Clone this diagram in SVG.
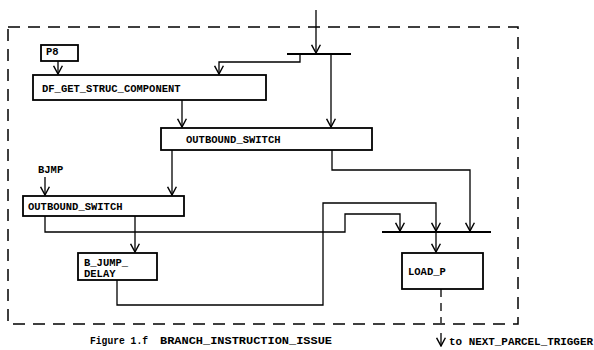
<svg xmlns="http://www.w3.org/2000/svg" width="594" height="350" viewBox="0 0 594 350">
<style>
.box{fill:#fff;stroke:#000;stroke-width:1.8}
.ln{fill:none;stroke:#000;stroke-width:1.3}
.bar{fill:none;stroke:#000;stroke-width:2.2}
.t{font-family:"Liberation Mono","DejaVu Sans Mono",monospace;font-weight:bold;font-size:10.5px;fill:#000}
.frame{fill:none;stroke:#000;stroke-width:1.5;stroke-dasharray:12 8}
</style>
<defs>
<marker id="ah" viewBox="0 0 10 10" refX="9" refY="5" markerWidth="11" markerHeight="11" markerUnits="userSpaceOnUse" orient="auto">
<path d="M1.5,1 L9,5 L1.5,9" fill="none" stroke="#000" stroke-width="1.3"/>
</marker>
</defs>
<rect class="frame" x="8" y="27" width="510" height="297"/>
<g id="connectors">
<path class="ln" d="M316,10 V53" marker-end="url(#ah)"/>
<path class="bar" d="M287,54 H351"/>
<path class="ln" d="M300,54 V62 H219 V74" marker-end="url(#ah)"/>
<path class="ln" d="M331,55 V127" marker-end="url(#ah)"/>
<path class="ln" d="M58,61 V74" marker-end="url(#ah)"/>
<path class="ln" d="M182,100 V127" marker-end="url(#ah)"/>
<path class="ln" d="M172,150 V195" marker-end="url(#ah)"/>
<path class="ln" d="M332,150 V170 H470 V231" marker-end="url(#ah)"/>
<path class="ln" d="M45,177 V195" marker-end="url(#ah)"/>
<path class="ln" d="M135,216 V252" marker-end="url(#ah)"/>
<path class="ln" d="M45,216 V232 H345 V214 H400 V231" marker-end="url(#ah)"/>
<path class="ln" d="M117,280 V305 H323 V203 H436 V231" marker-end="url(#ah)"/>
<path class="bar" d="M382,232 H491"/>
<path class="ln" d="M436,233 V252" marker-end="url(#ah)"/>
<path class="ln" d="M441,289 V323" stroke-dasharray="8 6"/>
<path class="ln" d="M441,333 V346" marker-end="url(#ah)"/>
</g>
<g id="p8"><rect class="box" x="41" y="45" width="37" height="16"/><text class="t" x="46" y="55">P8</text></g>
<g id="df_get"><rect class="box" x="33" y="75" width="233" height="25"/><text class="t" x="42" y="92">DF_GET_STRUC_COMPONENT</text></g>
<g id="os1"><rect class="box" x="161" y="128" width="211" height="22"/><text class="t" x="186" y="143">OUTBOUND_SWITCH</text></g>
<g id="bjmp"><text class="t" x="38" y="173">BJMP</text></g>
<g id="os2"><rect class="box" x="23" y="196" width="161" height="20"/><text class="t" x="28" y="210">OUTBOUND_SWITCH</text></g>
<g id="bjd"><rect class="box" x="78" y="253" width="79" height="27"/><text class="t" x="84" y="266">B_JUMP_</text><text class="t" x="84" y="277">DELAY</text></g>
<g id="loadp"><rect class="box" x="402" y="253" width="81" height="36"/><text class="t" x="408" y="275">LOAD_P</text></g>
<g id="caption"><text class="t" x="90" y="344" textLength="58" lengthAdjust="spacingAndGlyphs">Figure 1.f</text><text class="t" x="160" y="344" textLength="172" lengthAdjust="spacingAndGlyphs">BRANCH_INSTRUCTION_ISSUE</text></g>
<g id="next"><text class="t" x="449" y="345" textLength="144" lengthAdjust="spacingAndGlyphs">to NEXT_PARCEL_TRIGGER</text></g>
</svg>
